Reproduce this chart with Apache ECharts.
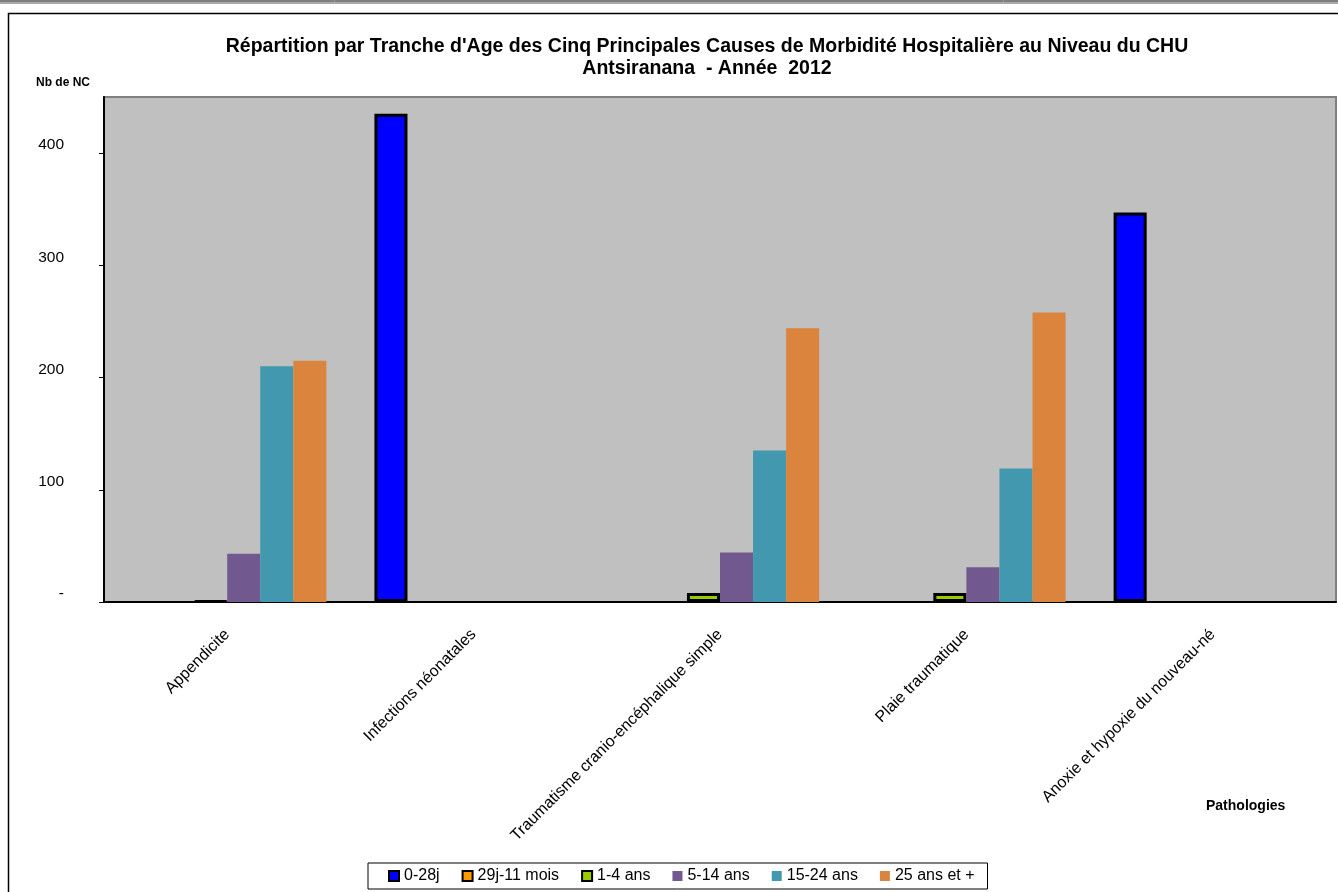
<!doctype html>
<html>
	<head>
		<meta charset="utf-8">
		<title>Morbidité hospitalière</title>
		<style>
			html, body { margin: 0; padding: 0; background: #fff; }
			#main { width: 1338px; height: 892px; }
		</style>
	</head>
	<body>
		<div id="main"></div>
		<script src="https://cdn.jsdelivr.net/npm/echarts@6/dist/echarts.min.js"></script>
		<script type="text/javascript">
			// pathologies (axe des x)
			var pathologies = ['Appendicite', 'Infections néonatales', 'Traumatisme cranio-encéphalique simple', 'Plaie traumatique', 'Anoxie et hypoxie du nouveau-né'];
			// tranches d'age
			var tranches = ['0-28j', '29j-11 mois', '1-4 ans', '5-14 ans', '15-24 ans', '25 ans et +'];
			var couleurs = ['#0000FF', '#FF9900', '#99CC00', '#71588F', '#4198AF', '#DB843D'];
			// nb de cas par tranche (null = pas de barre)
			var v0_28j = [null, 435, null, null, 347];
			var v29j_11mois = [null, null, null, null, null];
			var v1_4ans = [1, null, 8, 8, null];
			var v5_14ans = [43, null, 44, 31, null];
			var v15_24ans = [210, null, 135, 119, null];
			var v25plus = [215, null, 244, 258, null];
			var yTicks = [0, 100, 200, 300, 400];

			var valeurs = [v0_28j, v29j_11mois, v1_4ans, v5_14ans, v15_24ans, v25plus];
			var avecBord = [true, true, true, false, false, false];

			var chart = echarts.init(document.getElementById('main'));

			var series = [];
			for (var i = 0; i < tranches.length; i++) {
				series.push({
					name: tranches[i],
					type: 'bar',
					data: valeurs[i],
					barGap: '0%',
					barCategoryGap: '19.5%',
					itemStyle: {
						color: couleurs[i],
						borderColor: '#000',
						borderWidth: avecBord[i] ? 3 : 0
					}
				});
			}

			chart.setOption({
				animation: false,
				textStyle: { fontFamily: 'Liberation Sans, Arial, sans-serif' },
				title: {
					text: "Répartition par Tranche d'Age des Cinq Principales Causes de Morbidité Hospitalière au Niveau du CHU\nAntsiranana  - Année  2012",
					left: 702,
					top: 31,
					textAlign: 'center',
					textStyle: { fontSize: 19.5, fontWeight: 'bold', color: '#000', lineHeight: 22 }
				},
				legend: {
					data: tranches,
					left: 368,
					top: 863,
					itemWidth: 10,
					itemHeight: 10,
					itemGap: 22,
					icon: 'rect',
					borderColor: '#000',
					borderWidth: 1,
					padding: [5, 13, 5, 20],
					textStyle: { fontSize: 16, color: '#000' }
				},
				grid: {
					left: 104,
					right: 2,
					top: 97,
					bottom: 290,
					show: true,
					backgroundColor: '#C0C0C0',
					borderColor: '#808080',
					borderWidth: 2
				},
				xAxis: {
					type: 'category',
					data: pathologies,
					axisLine: { lineStyle: { color: '#000', width: 2 } },
					axisTick: { alignWithLabel: false, length: 5, lineStyle: { color: '#000' } },
					axisLabel: { interval: 0, rotate: 45, margin: 30, fontSize: 16, color: '#000' }
				},
				yAxis: {
					type: 'value',
					min: 0,
					max: 450,
					interval: 50,
					splitLine: { show: false },
					axisLine: { show: true, lineStyle: { color: '#000', width: 2 } },
					axisTick: { show: true, length: 5, customValues: yTicks, lineStyle: { color: '#000' } },
					axisLabel: {
						customValues: yTicks,
						fontSize: 15.5,
						color: '#000',
						margin: 40,
						verticalAlign: 'bottom',
						formatter: function (v) { return v === 0 ? '-' : v; }
					}
				},
				graphic: [
					{ type: 'line', shape: { x1: 0, y1: 1, x2: 1338, y2: 1 }, style: { stroke: '#000', lineWidth: 1 } },
					{ type: 'line', shape: { x1: 0, y1: 3, x2: 1338, y2: 3 }, style: { stroke: '#555', lineWidth: 1 } },
					{ type: 'rect', shape: { x: 8.5, y: 13.5, width: 1340, height: 890 }, style: { fill: 'none', stroke: '#000', lineWidth: 1.5 } },
					{ type: 'text', left: 36, top: 77, style: { text: 'Nb de NC', font: 'bold 12px Liberation Sans, Arial', fill: '#000' } },
					{ type: 'text', left: 1206, top: 799, style: { text: 'Pathologies', font: 'bold 14px Liberation Sans, Arial', fill: '#000' } }
				],
				series: series
			});
		</script>
	</body>
</html>
